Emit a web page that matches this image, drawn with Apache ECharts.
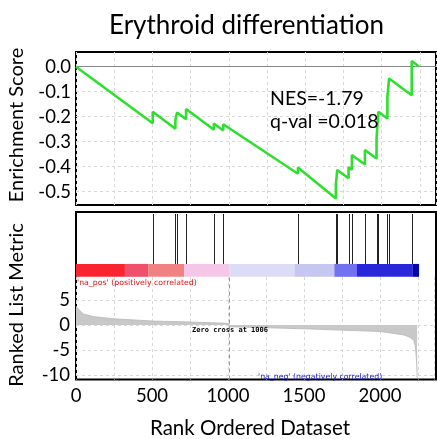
<!DOCTYPE html>
<html><head><meta charset="utf-8">
<script src="https://cdn.jsdelivr.net/npm/echarts@6/dist/echarts.min.js"></script>
<style>html,body{margin:0;padding:0;background:#fff}#c{width:437px;height:439px}</style>
</head><body><div id="c"></div>
<script>
// ---- data ----
var titleText = 'Erythroid differentiation';
var hitRanks = [502, 650, 661, 720, 902, 963, 1452, 1700, 1709, 1783, 1805, 1890, 1966, 1972, 1978, 2037, 2048, 2196];
var esRank  = [0, 502, 502, 650, 650, 661, 661, 720, 720, 902, 902, 963, 963, 1452, 1452, 1700, 1700, 1709, 1709, 1783, 1783, 1805, 1805, 1890, 1890, 1966, 1966, 1972, 1972, 1978, 1978, 2037, 2037, 2048, 2048, 2196, 2196, 2244];
var esValue = [0, -0.226, -0.180, -0.248, -0.213, -0.218, -0.183, -0.210, -0.169, -0.252, -0.227, -0.255, -0.230, -0.428, -0.403, -0.527, -0.470, -0.474, -0.413, -0.446, -0.402, -0.412, -0.353, -0.391, -0.333, -0.367, -0.290, -0.293, -0.232, -0.235, -0.180, -0.207, -0.122, -0.127, -0.047, -0.114, 0.023, 0.001];
var metricRank  = [0, 15, 48, 113, 242, 505, 765, 983, 1005, 1006, 1010, 1244, 1500, 1722, 2003, 2157, 2200, 2222, 2232, 2240, 2243, 2244];
var metricValue = [3.8, 3.2, 2.2, 1.7, 1.25, 0.8, 0.58, 0.37, 0.3, 0, -0.35, -0.55, -0.75, -1.0, -1.3, -2.0, -2.5, -3.1, -4.2, -7.0, -9.5, -10.6];
var barStart = [0, 320, 472, 707, 1005, 1429, 1690, 1835, 2200];
var barEnd   = [320, 472, 707, 1005, 1429, 1690, 1835, 2200, 2244];
var barColor = ['#fa2430', '#f0506c', '#f08282', '#f6c6e8', '#dcdcf6', '#c6c6f0', '#7272f0', '#2828da', '#0404b0'];
var esTicks = [0, -0.1, -0.2, -0.3, -0.4, -0.5];
var metricTicks = [5, 0, -5, -10];
var xTicks = [0, 500, 1000, 1500, 2000];
var zeroCross = 1006;
var nesText = 'NES=-1.79';
var qText = 'q-val =0.018';
var xMax = 2355;

var esData = esRank.map(function (r, i) { return [r, esValue[i]]; });
var metricData = metricRank.map(function (r, i) { return [r, metricValue[i]]; });
var barData = barStart.map(function (s, i) { return [s, barEnd[i], i]; });
var hitData = hitRanks.map(function (r) { return [r]; });

var FONT = 'Lato';
var dashGrid = { show: true, lineStyle: { color: '#d8d8d8', type: [3, 3], width: 1 } };

var chart = echarts.init(document.getElementById('c'), null, { renderer: 'canvas' });
chart.setOption({
  animation: false,
  backgroundColor: '#fff',
  title: { text: titleText, left: 104, top: 8, textStyle: { fontFamily: FONT, fontSize: 26, fontWeight: 'normal', color: '#000' } },
  grid: [
    { left: 76, right: 1, top: 52, height: 153, show: true, borderColor: '#000', borderWidth: 2, backgroundColor: '#fff' },
    { left: 76, right: 1, top: 212, height: 167.5, show: true, borderColor: '#000', borderWidth: 2, backgroundColor: '#fff' },
    { left: 76, right: 1, top: 277, height: 102.5, show: false }
  ],
  xAxis: [
    { gridIndex: 0, type: 'value', min: 0, max: xMax, interval: 250, axisLine: { show: false }, axisTick: { show: false }, axisLabel: { show: false }, splitLine: dashGrid },
    { gridIndex: 1, type: 'value', min: 0, max: xMax, show: false },
    { gridIndex: 2, type: 'value', min: 0, max: xMax, interval: 250, axisLine: { show: false }, axisTick: { show: false },
      axisLabel: { fontFamily: FONT, fontSize: 18.5, color: '#000', margin: 7, formatter: function (v) { return xTicks.indexOf(v) >= 0 ? String(v) : ''; } },
      splitLine: dashGrid }
  ],
  yAxis: [
    { gridIndex: 0, type: 'value', min: -0.553, max: 0.0588, axisLine: { show: false },
      axisTick: { show: false, customValues: esTicks },
      axisLabel: { customValues: esTicks, fontFamily: FONT, fontSize: 18.5, color: '#000', margin: 5, padding: [0, 0, 6, 0], formatter: function (v) { return v.toFixed(1); } },
      splitLine: dashGrid },
    { gridIndex: 1, type: 'value', min: 0, max: 1, show: false },
    { gridIndex: 2, type: 'value', min: -10.9, max: 9.6, axisLine: { show: false },
      axisTick: { show: false, customValues: metricTicks },
      axisLabel: { customValues: metricTicks, fontFamily: FONT, fontSize: 18.5, color: '#000', margin: 6, padding: [0, 0, 6, 0] },
      splitLine: dashGrid }
  ],
  graphic: [
    { type: 'text', z: 100, x: 17, y: 125, rotation: Math.PI / 2, style: { text: 'Enrichment Score', font: '20px Lato', fill: '#000', align: 'center', verticalAlign: 'middle' } },
    { type: 'text', z: 100, x: 17, y: 305, rotation: Math.PI / 2, style: { text: 'Ranked List Metric', font: '20px Lato', fill: '#000', align: 'center', verticalAlign: 'middle' } },
    { type: 'text', z: 100, x: 250, y: 428, style: { text: 'Rank Ordered Dataset', font: '20.5px Lato', fill: '#000', align: 'center', verticalAlign: 'middle' } },
    { type: 'text', z: 100, x: 270, y: 99, style: { text: nesText, font: '19.5px Lato', fill: '#000', verticalAlign: 'middle' } },
    { type: 'text', z: 100, x: 270, y: 122, style: { text: qText, font: '19.5px Lato', fill: '#000', verticalAlign: 'middle' } },
    { type: 'text', z: 100, x: 77, y: 283, style: { text: "'na_pos' (positively correlated)", font: '7.8px "DejaVu Sans"', fill: '#e01010', verticalAlign: 'middle' } },
    { type: 'text', z: 100, x: 258, y: 376.5, style: { text: "'na_neg' (negatively correlated)", font: '7.8px "DejaVu Sans"', fill: '#2020d8', verticalAlign: 'middle' } },
    { type: 'text', z: 100, x: 230, y: 330.5, style: { text: 'Zero cross at ' + zeroCross, font: 'bold 7px "DejaVu Sans Mono"', fill: '#000', align: 'center', verticalAlign: 'middle' } }
  ],
  series: [
    { type: 'line', xAxisIndex: 0, yAxisIndex: 0, data: esData, showSymbol: false, symbol: 'none',
      lineStyle: { color: '#2ee02e', width: 2.6 }, z: 5,
      markLine: { silent: true, symbol: 'none', label: { show: false }, lineStyle: { color: '#888', type: 'solid', width: 1 }, data: [{ yAxis: 0 }] } },
    { type: 'custom', xAxisIndex: 1, yAxisIndex: 1, data: hitData,
      renderItem: function (params, api) {
        var a = api.coord([api.value(0), 0.988]);
        var b = api.coord([api.value(0), 0.690]);
        return { type: 'line', shape: { x1: Math.round(a[0]) + 0.5, y1: a[1], x2: Math.round(b[0]) + 0.5, y2: b[1] }, style: { stroke: '#222', lineWidth: 1 } };
      } },
    { type: 'custom', xAxisIndex: 1, yAxisIndex: 1, data: barData,
      renderItem: function (params, api) {
        var a = api.coord([api.value(0), 0.690]);
        var b = api.coord([api.value(1), 0.613]);
        return { type: 'rect', shape: { x: a[0], y: a[1], width: b[0] - a[0], height: b[1] - a[1] }, style: { fill: barColor[api.value(2)] } };
      }, z: 1 },
    { type: 'line', xAxisIndex: 2, yAxisIndex: 2, data: metricData, showSymbol: false, symbol: 'none',
      lineStyle: { color: '#b8b8b8', width: 0.8 }, areaStyle: { color: '#c8c8c8', opacity: 1, origin: 0 },
      markLine: { silent: true, symbol: 'none', label: { show: false }, lineStyle: { color: '#999', type: [4, 3], width: 1 }, data: [{ xAxis: zeroCross }] } }
  ]
});
</script></body></html>
